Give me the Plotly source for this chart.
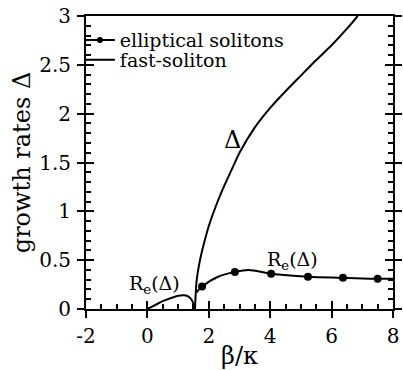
import plotly.graph_objects as go

# fast-soliton: lower Re(Δ) branch
re_beta = [0.0, 0.25, 0.5, 0.75, 1.0, 1.2, 1.35, 1.45, 1.52, 1.55]
re_vals = [0.0, 0.04, 0.08, 0.11, 0.135, 0.14, 0.125, 0.09, 0.03, 0.0]

# fast-soliton: Δ branch
d_beta = [1.55, 1.6, 1.7, 1.8, 1.9, 2.0, 2.25, 2.5, 2.75, 3.0, 3.5, 4.0, 4.5, 5.0, 5.5, 6.0, 6.5, 6.85]
d_vals = [0.0, 0.28, 0.48, 0.62, 0.74, 0.85, 1.07, 1.26, 1.43, 1.60, 1.86, 2.06, 2.23, 2.39, 2.55, 2.70, 2.87, 3.0]

# elliptical solitons: curve and marked points
ell_beta = [1.6, 1.78, 2.3, 2.85, 3.3, 4.03, 5.23, 6.37, 7.5, 8.0]
ell_vals = [0.17, 0.23, 0.33, 0.38, 0.40, 0.36, 0.33, 0.32, 0.31, 0.31]
mk_beta = [1.78, 2.85, 4.03, 5.23, 6.37, 7.5]
mk_vals = [0.23, 0.38, 0.36, 0.33, 0.32, 0.31]

x_ticks = [-2, 0, 2, 4, 6, 8]
x_labels = ["-2", "0", "2", "4", "6", "8"]
y_ticks = [0, 0.5, 1, 1.5, 2, 2.5, 3]
y_labels = ["0", "0.5", "1", "1.5", "2", "2.5", "3"]

FONT = "DejaVu Serif"
TC = "black"
fig = go.Figure()
fig.add_trace(go.Scatter(x=ell_beta, y=ell_vals, mode="lines", line=dict(color="black", width=2, shape="spline"),
                         showlegend=False))
fig.add_trace(go.Scatter(x=mk_beta, y=mk_vals, mode="markers", marker=dict(color="black", size=8),
                         showlegend=False))
fig.add_trace(go.Scatter(x=[None], y=[None], mode="lines+markers", name="elliptical solitons",
                         line=dict(color="black", width=2), marker=dict(color="black", size=6),
                         legend="legend"))
fig.add_trace(go.Scatter(x=re_beta, y=re_vals, mode="lines", line=dict(color="black", width=2, shape="spline"),
                         name="fast-soliton", legend="legend2"))
fig.add_trace(go.Scatter(x=d_beta, y=d_vals, mode="lines",
                         line=dict(color="black", width=2, shape="spline", smoothing=0.6),
                         showlegend=False))
# invisible trace so the overlay (outer tick) axes are drawn
fig.add_trace(go.Scatter(x=[None], y=[None], xaxis="x2", yaxis="y2", showlegend=False))

XR = [-2, 8]
YR = [0, 3]
leg = dict(xanchor="left", yanchor="middle", bgcolor="rgba(0,0,0,0)", font=dict(size=19), itemwidth=30)
fig.update_layout(
    width=403, height=370,
    margin=dict(l=86, r=10, t=16, b=61),
    paper_bgcolor="white", plot_bgcolor="white",
    font=dict(family=FONT, color="black", size=20),
    xaxis=dict(range=XR, tickvals=x_ticks, ticktext=x_labels, automargin=False,
               ticks="inside", ticklen=8, tickwidth=2, tickcolor=TC,
               minor=dict(dtick=0.5, ticks="inside", ticklen=5, tickwidth=2, tickcolor=TC),
               showline=True, linecolor="black", linewidth=2, mirror=True,
               showgrid=False, zeroline=False, tickfont=dict(size=20), ticklabelstandoff=8,
               title=dict(text="β/κ", font=dict(size=24), standoff=0)),
    yaxis=dict(range=YR, tickvals=y_ticks, ticktext=y_labels, automargin=False,
               ticks="inside", ticklen=8, tickwidth=2, tickcolor=TC,
               minor=dict(dtick=0.1, ticks="inside", ticklen=5, tickwidth=2, tickcolor=TC),
               showline=True, linecolor="black", linewidth=2, mirror="allticks",
               showgrid=False, zeroline=False, tickfont=dict(size=20), ticklabelstandoff=9,
               title=dict(text="growth rates Δ", font=dict(size=24), standoff=2)),
    xaxis2=dict(overlaying="x", anchor="y", side="bottom", range=XR, tickvals=x_ticks, automargin=False,
                ticks="outside", ticklen=8, tickwidth=2, tickcolor=TC,
                showticklabels=False, showline=False, showgrid=False, zeroline=False),
    yaxis2=dict(overlaying="y", anchor="x", side="left", range=YR, tickvals=y_ticks, automargin=False,
                ticks="outside", ticklen=8, tickwidth=2, tickcolor=TC, mirror="allticks",
                showticklabels=False, showline=False, showgrid=False, zeroline=False),
    legend=dict(x=-0.02, y=0.918, **leg),
    legend2=dict(x=-0.02, y=0.850, **leg),
    annotations=[
        dict(x=2.76, y=1.73, xref="x", yref="y", text="Δ", showarrow=False, font=dict(size=24)),
        dict(x=0.22, y=0.25, xref="x", yref="y", text="R<sub>e</sub>(Δ)", showarrow=False, font=dict(size=19)),
        dict(x=4.73, y=0.50, xref="x", yref="y", text="R<sub>e</sub>(Δ)", showarrow=False, font=dict(size=19)),
    ],
)
fig.write_html("out.html", config={"displayModeBar": False},
               post_script="document.body.style.margin='0';")
